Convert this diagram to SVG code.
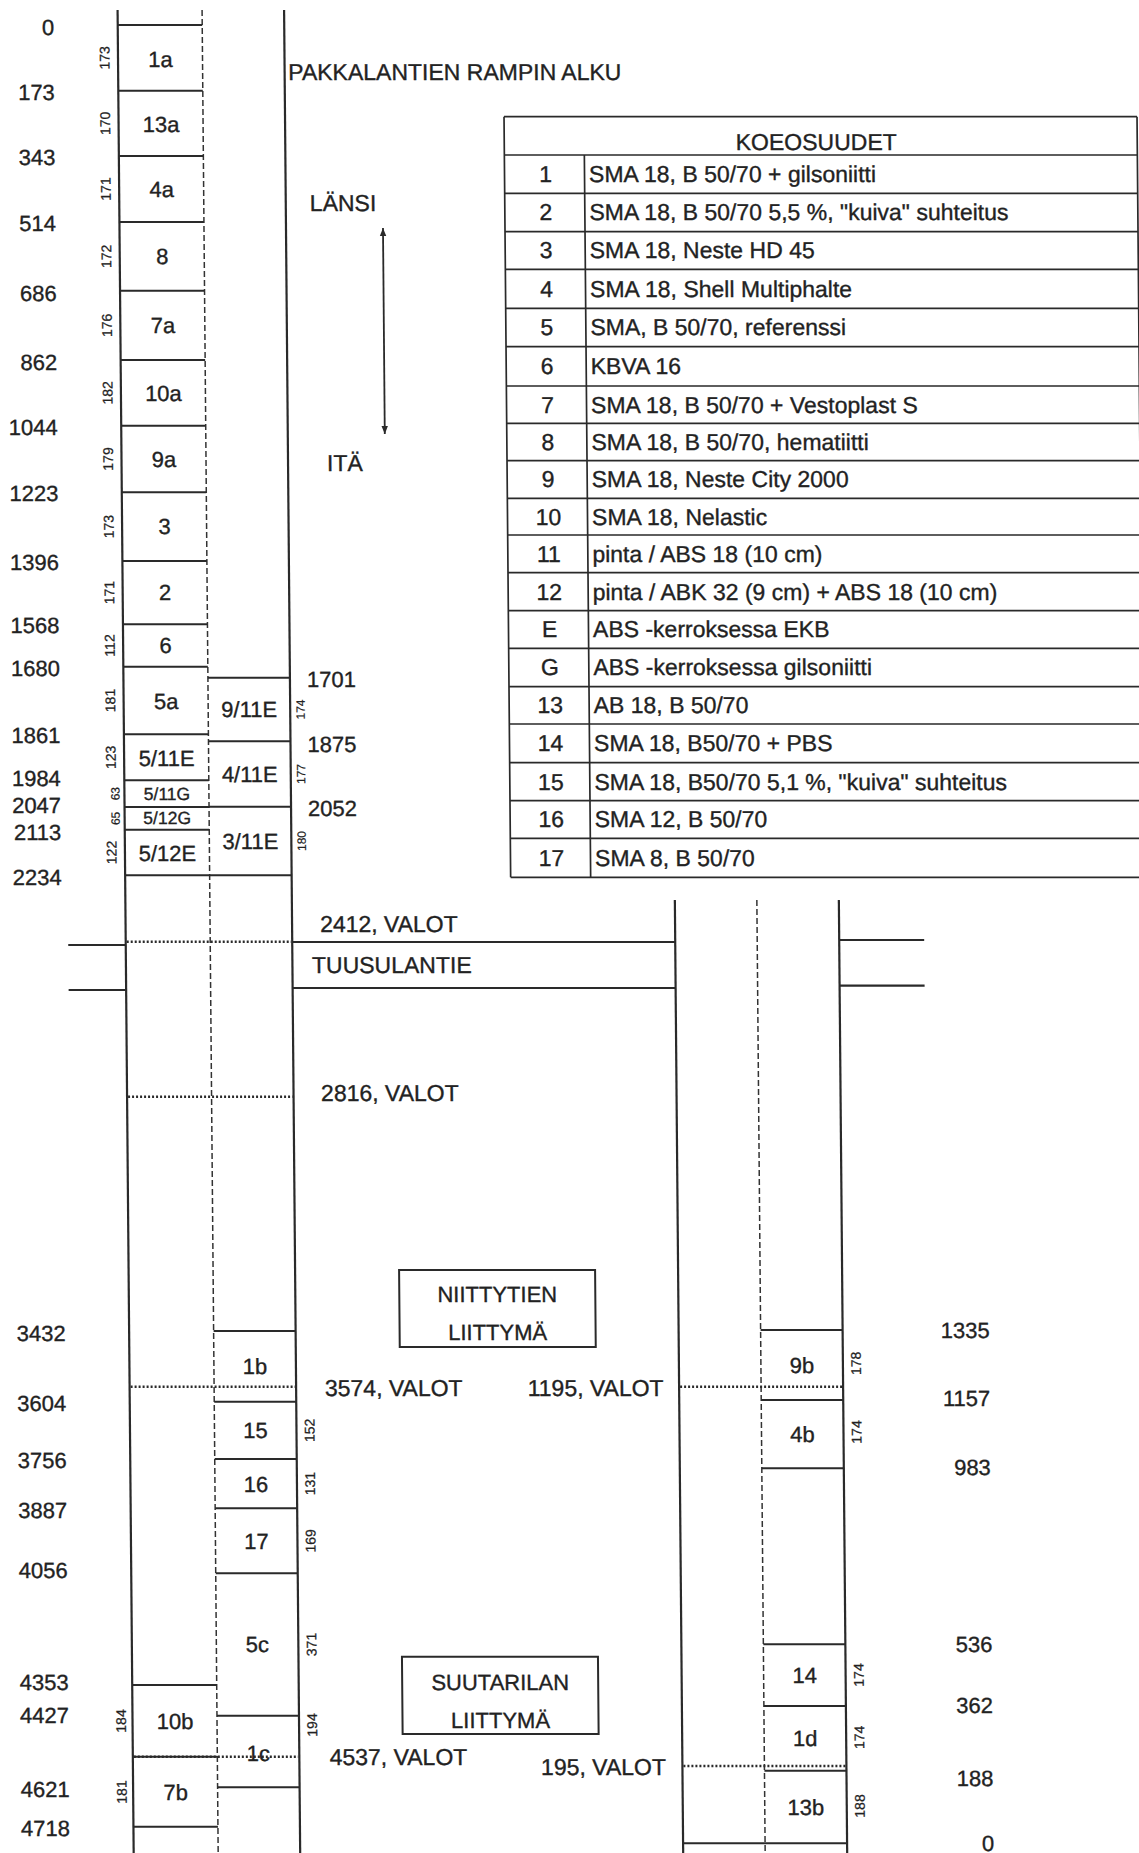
<svg xmlns="http://www.w3.org/2000/svg" width="1139" height="1853" viewBox="0 0 1139 1853">
<defs>
<style>
text{font-family:"Liberation Sans",Arial,Helvetica,sans-serif;fill:#222;stroke:#222;stroke-width:0.35;}
.t{font-size:22px;}
.p{font-size:23px;}
.c{text-anchor:middle;}
.e{text-anchor:end;}
.s{font-size:17.5px;}
.r{font-size:14px;text-anchor:middle;stroke-width:0.25;}
.rs{font-size:12px;text-anchor:middle;stroke-width:0.2;}
.ln{stroke:#2a2a2a;stroke-width:2.2;fill:none;}
.bx{stroke:#2a2a2a;stroke-width:2;fill:none;}
.ds{stroke:#333;stroke-width:1.5;stroke-dasharray:6 3;fill:none;}
.dt{stroke:#2a2a2a;stroke-width:2.6;stroke-dasharray:2 2;fill:none;}
.tb{stroke:#2a2a2a;stroke-width:1.7;fill:none;}
</style>
<marker id="ah" viewBox="0 0 10 10" refX="10" refY="5" markerWidth="8" markerHeight="10" orient="auto-start-reverse" markerUnits="userSpaceOnUse"><path d="M0,1 L10,5 L0,9 z" fill="#2a2a2a"/></marker>
</defs>
<rect x="0" y="0" width="1139" height="1853" fill="#fff"/>
<g transform="skewX(0.5)">
<g id="roads">
<line class="ln" x1="117.5" y1="10" x2="117.5" y2="1853"/>
<line class="ds" x1="202" y1="10" x2="202" y2="1853"/>
<line class="ln" x1="284" y1="10" x2="284" y2="1853"/>
<line class="ln" x1="667" y1="900" x2="667" y2="1853"/>
<line class="ds" x1="749" y1="900" x2="749" y2="1853"/>
<line class="ln" x1="831" y1="900" x2="831" y2="1853"/>
<line class="ln" x1="284" y1="942" x2="667" y2="942"/>
<line class="ln" x1="284" y1="988" x2="667" y2="988"/>
<line class="ln" x1="60" y1="945" x2="117.5" y2="945"/>
<line class="ln" x1="60" y1="990" x2="117.5" y2="990"/>
<line class="ln" x1="831" y1="940" x2="916" y2="940"/>
<line class="ln" x1="831" y1="985.7" x2="916" y2="985.7"/>
</g>
<g id="lights">
<line class="dt" x1="118.5" y1="941.7" x2="283" y2="941.7"/>
<line class="dt" x1="118.5" y1="1096.7" x2="283" y2="1096.7"/>
<line class="dt" x1="118.5" y1="1386.7" x2="283" y2="1386.7"/>
<line class="dt" x1="118.5" y1="1756.7" x2="283" y2="1756.7"/>
<line class="dt" x1="668" y1="1386.7" x2="830" y2="1386.7"/>
<line class="dt" x1="668" y1="1766" x2="830" y2="1766"/>
</g>
<g id="segments-A">
<path class="bx" d="M117.5,25H202 M117.5,90.7H202 M117.5,156H202 M117.5,222H202 M117.5,290.7H202 M117.5,360H202 M117.5,425.7H202 M117.5,492.3H202 M117.5,561H202 M117.5,624.3H202 M117.5,666.7H202 M117.5,734.3H202 M117.5,780.3H202 M117.5,807H202 M117.5,829.7H202 M117.5,875.3H284 M117.5,1685H202 M117.5,1756.7H202 M117.5,1826.7H202"/>
<text class="t c" x="160" y="67">1a</text>
<text class="t c" x="160" y="132">13a</text>
<text class="t c" x="160" y="197">4a</text>
<text class="t c" x="160" y="264">8</text>
<text class="t c" x="160" y="333">7a</text>
<text class="t c" x="160" y="401">10a</text>
<text class="t c" x="160" y="467">9a</text>
<text class="t c" x="160" y="534">3</text>
<text class="t c" x="160" y="600">2</text>
<text class="t c" x="160" y="653">6</text>
<text class="t c" x="160" y="709">5a</text>
<text class="t c" x="160" y="766">5/11E</text>
<text class="s c" x="160" y="800">5/11G</text>
<text class="s c" x="160" y="824.5">5/12G</text>
<text class="t c" x="160" y="861">5/12E</text>
<text class="t c" x="160" y="1729">10b</text>
<text class="t c" x="160" y="1800">7b</text>
<text class="r" transform="translate(109,57.9) rotate(-90)">173</text>
<text class="r" transform="translate(109,123.4) rotate(-90)">170</text>
<text class="r" transform="translate(109,189) rotate(-90)">171</text>
<text class="r" transform="translate(109,256.4) rotate(-90)">172</text>
<text class="r" transform="translate(109,325.4) rotate(-90)">176</text>
<text class="r" transform="translate(109,392.9) rotate(-90)">182</text>
<text class="r" transform="translate(109,459) rotate(-90)">179</text>
<text class="r" transform="translate(109,526.7) rotate(-90)">173</text>
<text class="r" transform="translate(109,592.7) rotate(-90)">171</text>
<text class="r" transform="translate(109,645.5) rotate(-90)">112</text>
<text class="r" transform="translate(109,700.5) rotate(-90)">181</text>
<text class="r" transform="translate(109,757.3) rotate(-90)">123</text>
<text class="rs" transform="translate(112.5,793.7) rotate(-90)">63</text>
<text class="rs" transform="translate(112.5,818.4) rotate(-90)">65</text>
<text class="r" transform="translate(109,852.5) rotate(-90)">122</text>
<text class="r" transform="translate(111,1721) rotate(-90)">184</text>
<text class="r" transform="translate(111,1792) rotate(-90)">181</text>
</g>
<g id="segments-B">
<path class="bx" d="M202,677.7H284 M202,741.3H284 M202,806.7H284 M202,1331H284 M202,1401.7H284 M202,1459H284 M202,1508.3H284 M202,1573.3H284 M202,1715.7H284 M202,1787.3H284"/>
<text class="t c" x="243" y="717.5">9/11E</text>
<text class="t c" x="243" y="782">4/11E</text>
<text class="t c" x="243" y="849">3/11E</text>
<text class="t c" x="243" y="1374.4">1b</text>
<text class="t c" x="243" y="1438.4">15</text>
<text class="t c" x="243" y="1491.7">16</text>
<text class="t c" x="243" y="1548.8">17</text>
<text class="t c" x="243" y="1652.5">5c</text>
<text class="t c" x="243" y="1761">1c</text>
<text class="rs" transform="translate(298.5,709.5) rotate(-90)">174</text>
<text class="rs" transform="translate(298.5,774) rotate(-90)">177</text>
<text class="rs" transform="translate(298.5,841) rotate(-90)">180</text>
<text class="r" transform="translate(302,1430.4) rotate(-90)">152</text>
<text class="r" transform="translate(302,1483.7) rotate(-90)">131</text>
<text class="r" transform="translate(302,1540.8) rotate(-90)">169</text>
<text class="r" transform="translate(302,1644.5) rotate(-90)">371</text>
<text class="r" transform="translate(302,1725) rotate(-90)">194</text>
<text class="t" x="301" y="687">1701</text>
<text class="t" x="301" y="752">1875</text>
<text class="t" x="301" y="816">2052</text>
</g>
<g id="segments-C">
<path class="bx" d="M749,1330H831 M749,1400H831 M749,1468.3H831 M749,1644.3H831 M749,1706H831 M749,1770.7H831 M667,1843.3H831"/>
<text class="t c" x="790" y="1373">9b</text>
<text class="t c" x="790" y="1442">4b</text>
<text class="t c" x="790" y="1683.2">14</text>
<text class="t c" x="790" y="1746.3">1d</text>
<text class="t c" x="790" y="1815">13b</text>
<text class="r" transform="translate(849,1363.3) rotate(-90)">178</text>
<text class="r" transform="translate(849,1432) rotate(-90)">174</text>
<text class="r" transform="translate(849,1675) rotate(-90)">174</text>
<text class="r" transform="translate(849,1737.3) rotate(-90)">174</text>
<text class="r" transform="translate(849,1806) rotate(-90)">188</text>
</g>
<g id="chainage-left">
<text class="t e" x="54" y="35">0</text>
<text class="t e" x="54" y="99.7">173</text>
<text class="t e" x="54" y="164.7">343</text>
<text class="t e" x="54" y="231.3">514</text>
<text class="t e" x="54" y="300.7">686</text>
<text class="t e" x="54" y="369.7">862</text>
<text class="t e" x="54" y="434.7">1044</text>
<text class="t e" x="54" y="501.3">1223</text>
<text class="t e" x="54" y="569.7">1396</text>
<text class="t e" x="54" y="633">1568</text>
<text class="t e" x="54" y="675.7">1680</text>
<text class="t e" x="54" y="743">1861</text>
<text class="t e" x="54" y="786.3">1984</text>
<text class="t e" x="54" y="813">2047</text>
<text class="t e" x="54" y="840.3">2113</text>
<text class="t e" x="54" y="884.7">2234</text>
<text class="t e" x="54" y="1341">3432</text>
<text class="t e" x="54" y="1411">3604</text>
<text class="t e" x="54" y="1468">3756</text>
<text class="t e" x="54" y="1518">3887</text>
<text class="t e" x="54" y="1578">4056</text>
<text class="t e" x="54" y="1690.5">4353</text>
<text class="t e" x="54" y="1723.5">4427</text>
<text class="t e" x="54" y="1797">4621</text>
<text class="t e" x="54" y="1836">4718</text>
</g>
<g id="chainage-right">
<text class="t e" x="978" y="1338">1335</text>
<text class="t e" x="978" y="1406.3">1157</text>
<text class="t e" x="978" y="1475.3">983</text>
<text class="t e" x="978" y="1652">536</text>
<text class="t e" x="978" y="1713">362</text>
<text class="t e" x="978" y="1786.3">188</text>
<text class="t e" x="978" y="1851">0</text>
</g>
<g id="place-labels">
<text class="p" x="287.6" y="80">PAKKALANTIEN RAMPIN ALKU</text>
<text class="p" x="308" y="211.5">LÄNSI</text>
<text class="p" x="323" y="471.5">ITÄ</text>
<text class="p" x="312" y="932">2412, VALOT</text>
<text class="p" x="303.5" y="973">TUUSULANTIE</text>
<text class="p" x="311.5" y="1101.5">2816, VALOT</text>
<text class="p" x="312.8" y="1396.5">3574, VALOT</text>
<text class="p e" x="651.5" y="1396.5">1195, VALOT</text>
<text class="p" x="314.3" y="1765">4537, VALOT</text>
<text class="p e" x="650.5" y="1775">195, VALOT</text>
</g>
<g id="niittytien-liittyma">
<rect class="bx" x="388" y="1270" width="196" height="77"/>
<text class="t c" x="486" y="1301.7">NIITTYTIEN</text>
<text class="t c" x="486" y="1340">LIITTYMÄ</text>
</g>
<g id="suutarilan-liittyma">
<rect class="bx" x="387.5" y="1656.7" width="196" height="77.3"/>
<text class="t c" x="485.5" y="1690">SUUTARILAN</text>
<text class="t c" x="485.5" y="1728.3">LIITTYMÄ</text>
</g>
<g id="connectors">
<line x1="381" y1="228" x2="381" y2="434" stroke="#2a2a2a" stroke-width="1.8" marker-start="url(#ah)" marker-end="url(#ah)"/>
</g>
<g id="table-koeosuudet">
<path class="tb" d="M503,116.7H1136 M503,155H1136 M503,193.3H1136 M503,231.7H1136 M503,269.3H1136 M503,308.3H1136 M503,346.7H1136 M503,386H1136 M503,423.3H1136 M503,460.7H1136 M503,498.3H1136 M503,535H1136 M503,572.7H1136 M503,610.7H1136 M503,648.3H1136 M503,686.7H1136 M503,724H1136 M503,762.7H1136 M503,800.7H1136 M503,838.3H1136 M503,877.3H1136 M503,116.7V877.3 M583,155V877.3 M1136,116.7V877.3"/>
<text class="p c" x="815" y="150">KOEOSUUDET</text>
<g class="p">
<text class="c" x="544" y="182.2">1</text><text x="587.5" y="182.2">SMA 18, B 50/70 + gilsoniitti</text>
<text class="c" x="544" y="220.5">2</text><text x="587.5" y="220.5">SMA 18, B 50/70 5,5 %, "kuiva" suhteitus</text>
<text class="c" x="544" y="258.5">3</text><text x="587.5" y="258.5">SMA 18, Neste HD 45</text>
<text class="c" x="544" y="296.8">4</text><text x="587.5" y="296.8">SMA 18, Shell Multiphalte</text>
<text class="c" x="544" y="335.5">5</text><text x="587.5" y="335.5">SMA, B 50/70, referenssi</text>
<text class="c" x="544" y="374.4">6</text><text x="587.5" y="374.4">KBVA 16</text>
<text class="c" x="544" y="412.7">7</text><text x="587.5" y="412.7">SMA 18, B 50/70 + Vestoplast S</text>
<text class="c" x="544" y="450">8</text><text x="587.5" y="450">SMA 18, B 50/70, hematiitti</text>
<text class="c" x="544" y="487.5">9</text><text x="587.5" y="487.5">SMA 18, Neste City 2000</text>
<text class="c" x="544" y="524.7">10</text><text x="587.5" y="524.7">SMA 18, Nelastic</text>
<text class="c" x="544" y="561.9">11</text><text x="587.5" y="561.9">pinta / ABS 18 (10 cm)</text>
<text class="c" x="544" y="599.7">12</text><text x="587.5" y="599.7">pinta / ABK 32 (9 cm) + ABS 18 (10 cm)</text>
<text class="c" x="544" y="637.5">E</text><text x="587.5" y="637.5">ABS -kerroksessa EKB</text>
<text class="c" x="544" y="675.5">G</text><text x="587.5" y="675.5">ABS -kerroksessa gilsoniitti</text>
<text class="c" x="544" y="713.4">13</text><text x="587.5" y="713.4">AB 18, B 50/70</text>
<text class="c" x="544" y="751.4">14</text><text x="587.5" y="751.4">SMA 18, B50/70 + PBS</text>
<text class="c" x="544" y="789.7">15</text><text x="587.5" y="789.7">SMA 18, B50/70 5,1 %, "kuiva" suhteitus</text>
<text class="c" x="544" y="827.5">16</text><text x="587.5" y="827.5">SMA 12, B 50/70</text>
<text class="c" x="544" y="865.8">17</text><text x="587.5" y="865.8">SMA 8, B 50/70</text>
</g>
</g>
</g>
</svg>
